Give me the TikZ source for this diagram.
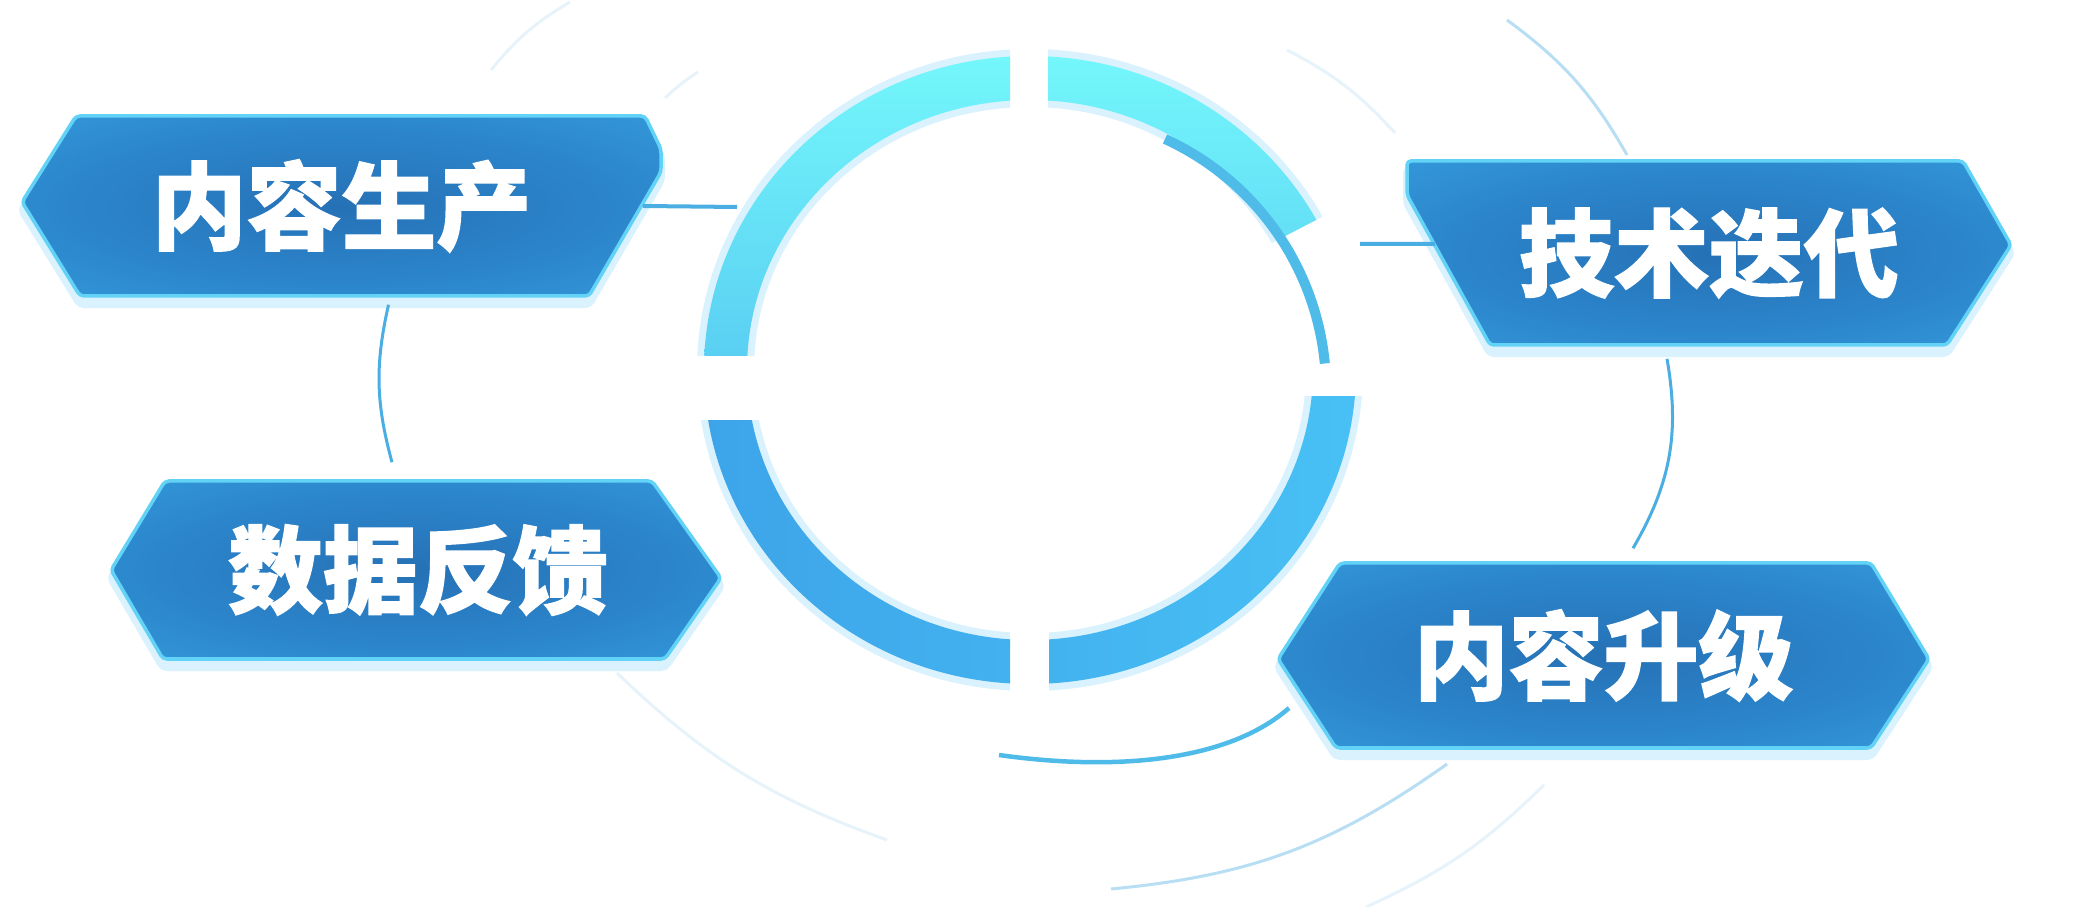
\documentclass[tikz,border=0pt]{standalone}
\usepackage{fontspec}
\newfontfamily\cjk{Noto Sans CJK SC}[BoldFeatures={FakeBold=1.5}]
\usetikzlibrary{shadows}

\definecolor{boxdark}{HTML}{2671B6}
\definecolor{boxmid}{HTML}{2C86CC}
\definecolor{boxlight}{HTML}{3AAAE6}
\definecolor{boxrim}{HTML}{62D3F6}
\definecolor{glowblue}{HTML}{D9F2FD}
\definecolor{ringcyan}{HTML}{74F7FB}
\definecolor{ringblue}{HTML}{3DA4E9}
\definecolor{ringsky}{HTML}{48C0F5}
\definecolor{ringthin}{HTML}{4FBBE9}
\definecolor{linkblue}{HTML}{4BAEE2}
\definecolor{haze}{HTML}{E6F3FA}
\definecolor{mist}{HTML}{B8DEF4}

\pgfdeclareradialshading{tagshade}{\pgfpoint{0bp}{0bp}}{color(0bp)=(boxdark); color(22bp)=(boxmid); color(50bp)=(boxlight)}

\begin{document}
\begin{tikzpicture}[x=0.01cm, y=0.01cm,
  tag/.style={shade, shading=tagshade, draw=boxrim, line width=0.035cm, rounded corners=0.04cm,
    drop shadow={shadow xshift=0cm, shadow yshift=-0.08cm, fill=glowblue, draw=glowblue, line width=0.08cm, opacity=1}},
  tagtext/.style={text=white, font=\cjk\bfseries\fontsize{27}{30}\selectfont, inner sep=0pt},
  link/.style={draw=linkblue, line width=0.04cm},
  faint/.style={draw=haze, line width=0.03cm},
  band/.style={even odd rule, insert path={(1030,-370) ellipse [x radius=326, y radius=314]
    (1030,-370) ellipse [x radius=283, y radius=270]}}]
  \useasboundingbox (0,0) rectangle (2097,-907);

  % background arcs
  \draw[faint] (570,-2) to[bend right=10] (491,-70);
  \draw[faint] (698,-72) to[bend right=5] (665,-98);
  \draw[faint] (1287,-50) to[bend left=10] (1395,-133);
  \draw[mist, line width=0.03cm] (1507,-20) to[bend left=12] (1627,-155);
  \draw[faint] (617,-673) to[bend right=12] (887,-840);
  \draw[mist, line width=0.03cm] (1447,-764) to[bend left=15] (1111,-889);
  \draw[haze, line width=0.03cm] (1544,-785) to[bend left=10] (1366,-907);
  \draw[ringthin, line width=0.045cm] (1289,-708) .. controls (1230,-760) and (1120,-772) .. (999,-755);

  % ring
  \begin{scope}
    \clip (680,-356) rectangle (1010,-30);
    \draw[glowblue, line width=0.14cm, band];
    \shade[top color=ringcyan, bottom color=ringblue, band];
  \end{scope}
  \begin{scope}
    \clip (1048,-360) -- (1048,-30) -- (1450,-30) -- (1450,-150) -- cycle;
    \draw[glowblue, line width=0.14cm, band];
    \shade[top color=ringcyan, bottom color=ringblue, band];
  \end{scope}
  \begin{scope}
    \clip (1049,-397) rectangle (1400,-720);
    \draw[glowblue, line width=0.14cm, band];
    \shade[left color=ringblue, right color=ringsky, band];
  \end{scope}
  \begin{scope}
    \clip (680,-421) rectangle (1010,-720);
    \draw[glowblue, line width=0.14cm, band];
    \shade[left color=ringblue, right color=ringsky, band];
  \end{scope}
  \draw[ringthin, line width=0.1cm] (1165,-139) arc[start angle=65.4, end angle=5.5, radius=276];

  % boxes
  \path[tag] (22,-202) -- (76,-116) -- (645,-116) -- (661,-149) -- (661,-172) -- (589,-296) -- (80,-296) -- cycle;
  \path[tag] (111,-570) -- (165,-481) -- (652,-481) -- (721,-578) -- (665,-659) -- (163,-659) -- cycle;
  \path[tag] (1407,-161) -- (1963,-161) -- (2011,-245) -- (1947,-345) -- (1490,-345) -- (1407,-195) -- cycle;
  \path[tag] (1278,-659) -- (1340,-563) -- (1871,-563) -- (1929,-659) -- (1871,-748) -- (1336,-748) -- cycle;

  \node[tagtext, minimum width=6.39cm, minimum height=1.80cm] (prod) at (341.5,-206) {内容生产};
  \node[tagtext, minimum width=6.10cm, minimum height=1.78cm] (feed) at (418,-570) {数据反馈};
  \node[tagtext, minimum width=6.04cm, minimum height=1.84cm] (tech) at (1709,-253) {技术迭代};
  \node[tagtext, minimum width=6.51cm, minimum height=1.85cm] (upgr) at (1603.5,-655.5) {内容升级};

  % connectors
  \coordinate (ringW) at (737,-207);
  \coordinate (ringE) at (1360,-244);
  \draw[link] ([xshift=-0.19cm]prod.east) -- (ringW);
  \draw[link, line width=0.03cm] ([shift={(0.47cm,-0.08cm)}]prod.south) to[bend right=14] ([shift={(-0.26cm,0.18cm)}]feed.north);
  \draw[link] (ringE) -- ([shift={(0.29cm,0.09cm)}]tech.west);
  \draw[link, line width=0.03cm] ([shift={(-0.42cm,-0.13cm)}]tech.south) to[bend left=20] ([shift={(0.295cm,0.14cm)}]upgr.north);
\end{tikzpicture}
\end{document}
